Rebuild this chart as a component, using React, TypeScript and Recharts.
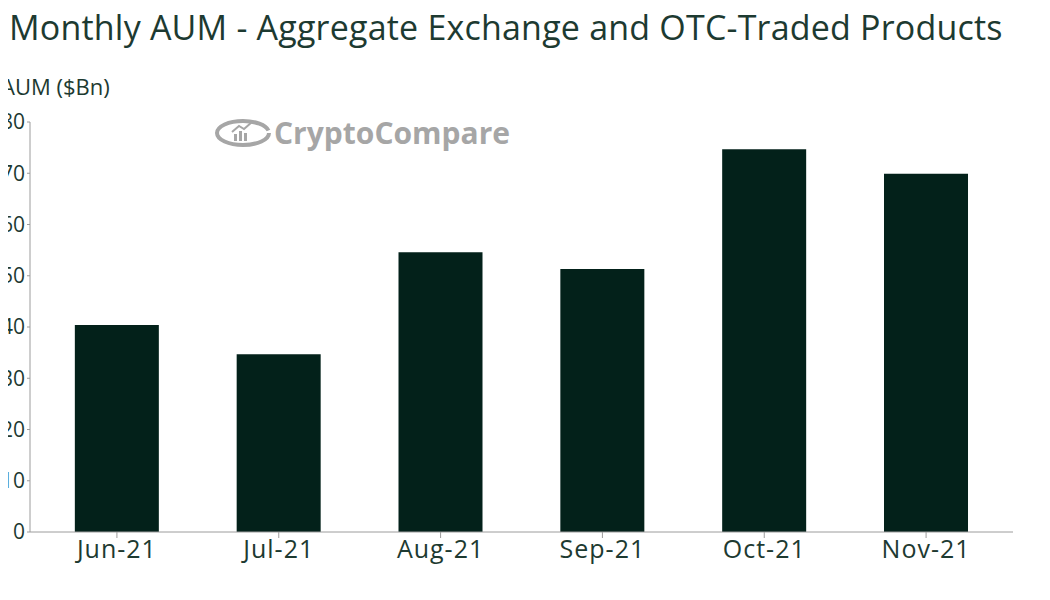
import { Bar, BarChart, XAxis, YAxis } from "recharts";

const MONTHS = ["Jun-21", "Jul-21", "Aug-21", "Sep-21", "Oct-21", "Nov-21"];
const AUM = [40.4, 34.7, 54.6, 51.3, 74.7, 69.9];
const Y_TICKS = [0, 10, 20, 30, 40, 50, 60, 70, 80];

const TEXT = "#1d3a31";
const AXIS = "#9c9c9c";
const BAR = "#03211a";
const MARK = "#a6a6a6";
const FONT = "'Open Sans', sans-serif";

const data = MONTHS.map((m, i) => ({ month: m, aum: AUM[i] }));

// grey CryptoCompare logo sitting behind the plot
function Watermark() {
  return (
    <svg width={320} height={50} style={{ position: "absolute", left: 214, top: 108 }}>
      <ellipse cx={29} cy={25} rx={26} ry={12} fill="none" stroke={MARK} strokeWidth={4} strokeDasharray="120 10" />
      <rect x={20} y={26} width={3} height={7} fill={MARK} />
      <rect x={25} y={23} width={3} height={10} fill={MARK} />
      <rect x={30} y={25} width={3} height={8} fill={MARK} />
      <path d="M18 24 L25 18 L30 21 L38 14" stroke={MARK} strokeWidth={2} fill="none" />
      <text x={60} y={36} fontFamily={FONT} fontWeight={700} fontSize={30} fill={MARK}>
        CryptoCompare
      </text>
    </svg>
  );
}

export default function App() {
  return (
    <div
      style={{
        position: "relative",
        width: 1050,
        height: 600,
        margin: -8,
        overflow: "hidden",
        background: "#fff",
        fontFamily: FONT,
      }}
    >
      <div
        style={{
          position: "absolute",
          left: 9,
          top: 4,
          fontSize: 34,
          color: TEXT,
          whiteSpace: "nowrap",
          letterSpacing: 0.2,
        }}
      >
        Monthly AUM - Aggregate Exchange and OTC-Traded Products
      </div>
      <div
        style={{
          position: "absolute",
          left: 1,
          top: 71,
          fontSize: 22,
          color: TEXT,
          whiteSpace: "nowrap",
        }}
      >
        AUM ($Bn)
      </div>
      <Watermark />
      <BarChart
        width={1050}
        height={600}
        data={data}
        margin={{ top: 122, right: 37, bottom: 28, left: 0 }}
        barCategoryGap="24%"
      >
        <XAxis
          dataKey="month"
          height={40}
          stroke={AXIS}
          tickSize={6}
          padding={{ left: 6, right: 6 }}
          tick={{ fill: TEXT, fontSize: 25, fontFamily: FONT, letterSpacing: 1 }}
        />
        <YAxis
          width={30}
          domain={[0, 80]}
          ticks={Y_TICKS}
          interval={0}
          stroke={AXIS}
          tickSize={3}
          tick={{ fill: TEXT, fontSize: 21, fontFamily: FONT }}
        />
        <Bar dataKey="aum" fill={BAR} isAnimationActive={false} />
      </BarChart>
    </div>
  );
}
